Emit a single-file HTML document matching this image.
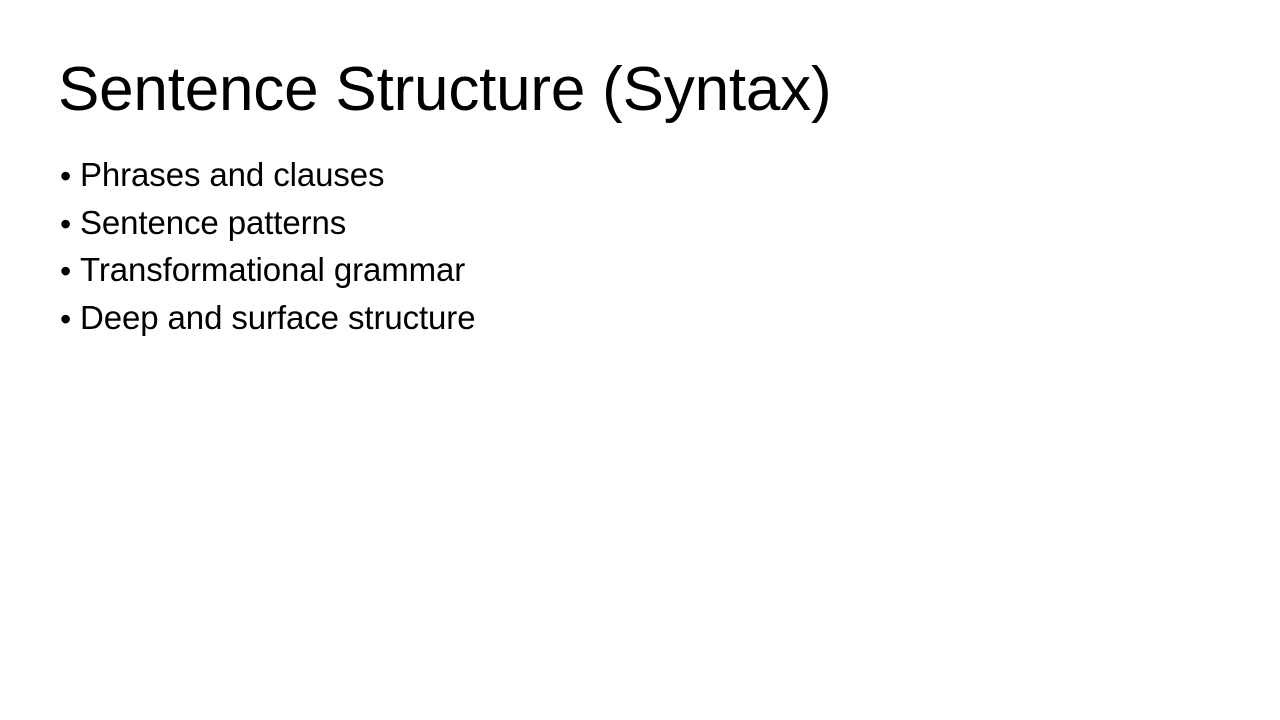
<!DOCTYPE html>
<html><head><meta charset="utf-8"><style>
html,body{margin:0;padding:0;background:#fff;}
body{width:1280px;height:720px;position:relative;overflow:hidden;font-family:"Liberation Sans",sans-serif;color:#000;}
h1{position:absolute;left:58px;top:53px;margin:0;font-weight:400;font-size:62px;line-height:74px;letter-spacing:-0.2px;}
ul{position:absolute;left:58px;top:151px;margin:0;padding:0;list-style:none;font-size:33px;line-height:47.6px;letter-spacing:-0.1px;}
li{position:relative;padding-left:22px;}
li:before{content:"•";position:absolute;left:2px;top:2px;font-size:32px;}
</style></head><body>
<h1>Sentence Structure (Syntax)</h1>
<ul>
<li>Phrases and clauses</li>
<li>Sentence patterns</li>
<li>Transformational grammar</li>
<li>Deep and surface structure</li>
</ul>
</body></html>
